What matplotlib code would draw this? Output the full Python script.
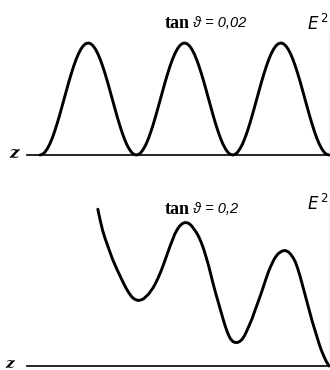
import numpy as np
import matplotlib
matplotlib.use("Agg")
import matplotlib.pyplot as plt

# ---- data ----
# z measured in units of the node spacing (nodes of the top curve at 0, 1, 2, 3)
z_top = np.round(np.arange(0, 3.0001, 0.025), 3)
e2_top = [0.000, 0.006, 0.024, 0.055, 0.095, 0.146, 0.206, 0.273, 0.345, 0.422,
          0.500, 0.578, 0.655, 0.727, 0.794, 0.854, 0.905, 0.946, 0.976, 0.994,
          1.000, 0.994, 0.976, 0.946, 0.905, 0.854, 0.794, 0.727, 0.655, 0.578,
          0.500, 0.422, 0.345, 0.273, 0.206, 0.146, 0.095, 0.055, 0.024, 0.006,
          0.000, 0.006, 0.024, 0.055, 0.095, 0.146, 0.206, 0.273, 0.345, 0.422,
          0.500, 0.578, 0.655, 0.727, 0.794, 0.854, 0.905, 0.946, 0.976, 0.994,
          1.000, 0.994, 0.976, 0.946, 0.905, 0.854, 0.794, 0.727, 0.655, 0.578,
          0.500, 0.422, 0.345, 0.273, 0.206, 0.146, 0.095, 0.055, 0.024, 0.006,
          0.000, 0.006, 0.024, 0.055, 0.095, 0.146, 0.206, 0.273, 0.345, 0.422,
          0.500, 0.578, 0.655, 0.727, 0.794, 0.854, 0.905, 0.946, 0.976, 0.994,
          1.000, 0.994, 0.976, 0.946, 0.905, 0.854, 0.794, 0.727, 0.655, 0.578,
          0.500, 0.422, 0.345, 0.273, 0.206, 0.146, 0.095, 0.055, 0.024, 0.006,
          0.000]

z_bot = np.round(np.arange(0.6, 3.0001, 0.025), 3)
e2_bot = [1.40, 1.30, 1.21, 1.14, 1.08, 1.02, 0.96, 0.91, 0.86, 0.815,
          0.77, 0.725, 0.685, 0.65, 0.62, 0.60, 0.59, 0.585, 0.59, 0.60,
          0.62, 0.64, 0.67, 0.70, 0.74, 0.785, 0.835, 0.89, 0.95, 1.01,
          1.07, 1.125, 1.18, 1.22, 1.25, 1.27, 1.28, 1.28, 1.27, 1.25,
          1.22, 1.19, 1.15, 1.10, 1.04, 0.97, 0.895, 0.81, 0.725, 0.645,
          0.57, 0.495, 0.42, 0.35, 0.29, 0.245, 0.22, 0.21, 0.21, 0.22,
          0.24, 0.275, 0.32, 0.37, 0.42, 0.48, 0.54, 0.60, 0.66, 0.725,
          0.79, 0.85, 0.90, 0.945, 0.98, 1.005, 1.02, 1.03, 1.03, 1.02,
          1.00, 0.97, 0.93, 0.87, 0.80, 0.72, 0.64, 0.56, 0.48, 0.40,
          0.33, 0.26, 0.19, 0.13, 0.08, 0.035, 0.00]

tan_values = ["0,02", "0,2"]

W, H = 330, 370
fig = plt.figure(figsize=(W / 100, H / 100), dpi=100)

def px_axes(x0, y_top, x1, y_bot):
    return fig.add_axes([x0 / W, 1 - y_bot / H, (x1 - x0) / W, (y_bot - y_top) / H])

xlim = (-0.135, 3.01)

ax1 = px_axes(27, 30, 330, 155)
ax2 = px_axes(27, 198, 330, 366)

for ax, z, e, ytop in [(ax1, z_top, e2_top, (155 - 30) / 112),
                       (ax2, z_bot, e2_bot, (366 - 198) / 112)]:
    ax.plot(z, e, color="black", lw=2.1, solid_capstyle="round",
            solid_joinstyle="round", clip_on=False)
    ax.set_xlim(*xlim)
    ax.set_ylim(0, ytop)
    for s in ["top", "left"]:
        ax.spines[s].set_visible(False)
    ax.spines["bottom"].set_linewidth(1.2)
    ax.spines["right"].set_linewidth(0.8)
    ax.spines["right"].set_color("#555555")
    ax.set_xticks([])
    ax.set_yticks([])
    ax.patch.set_alpha(0)

ax1.spines["right"].set_color("#bbbbbb")

for y, val in [(23, tan_values[0]), (209, tan_values[1])]:
    fig.text(165 / W, 1 - y / H, "tan", fontsize=13, fontweight="bold",
             family="Liberation Serif", ha="left", va="center")
    fig.text(193 / W, 1 - y / H, "ϑ = " + val, fontsize=10.5, fontstyle="italic",
             family="Liberation Sans", ha="left", va="center")

for y in (24, 204):
    fig.text(307 / W, 1 - y / H, r"$E^{\,2}$", fontsize=12, ha="left", va="center")

fig.text(9 / W, 1 - 154 / H, "z", fontsize=12, fontweight="bold", fontstyle="italic",
         family="DejaVu Serif", ha="left", va="center")
fig.text(5 / W, 1 - 364 / H, "z", fontsize=11, fontweight="bold", fontstyle="italic",
         family="DejaVu Serif", ha="left", va="center")

fig.savefig("out.png", dpi=100)
